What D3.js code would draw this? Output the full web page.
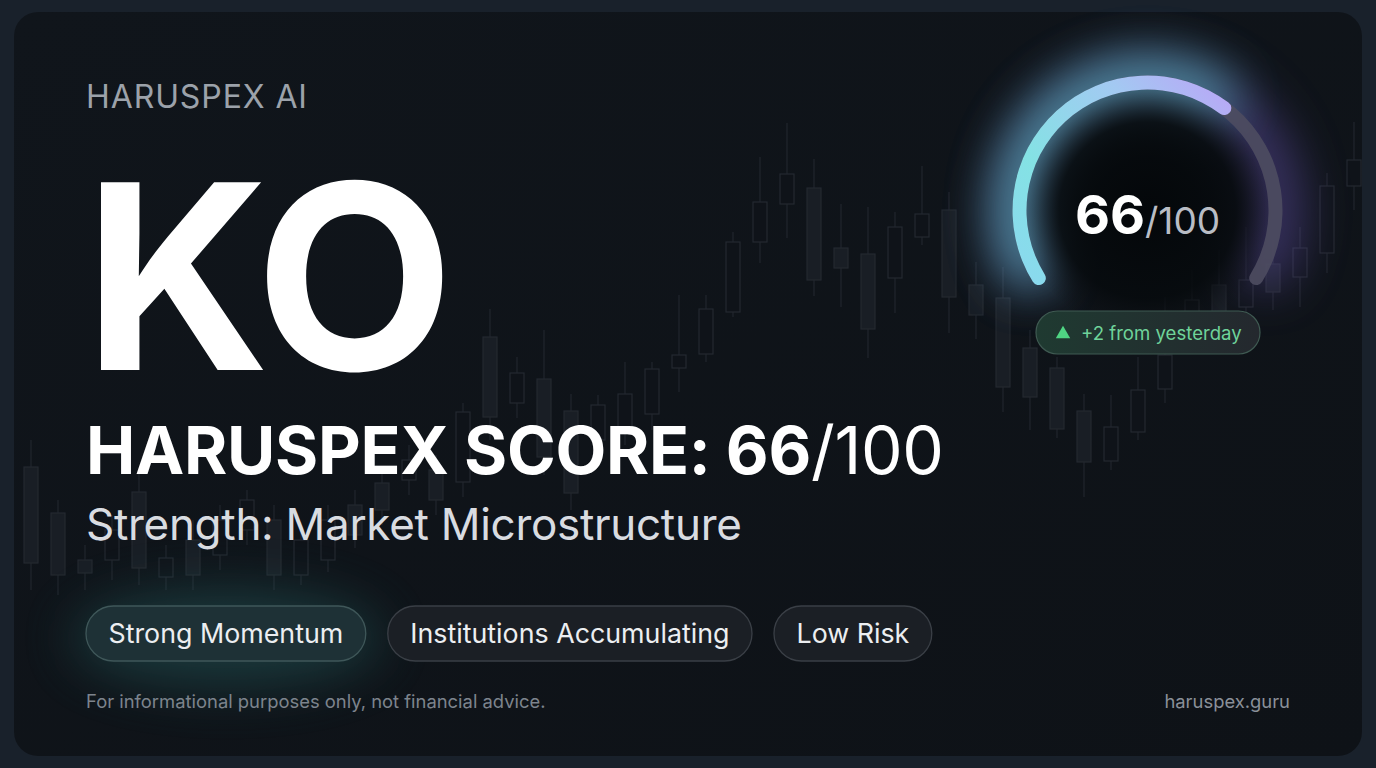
<!DOCTYPE html>
<html><head><meta charset="utf-8">
<script src="https://cdn.jsdelivr.net/npm/d3@7"></script>
<style>html,body{margin:0;padding:0;background:#19212b;overflow:hidden}svg{display:block}</style>
</head><body><svg id="c" width="1376" height="768"></svg>
<script>
// ---- content ----
const brand = "HARUSPEX AI";
const ticker = "KO";
const scoreLabel = "HARUSPEX SCORE: ";
const score = 66;
const scoreMax = 100;
const strengthText = "Strength: Market Microstructure";
const tags = ["Strong Momentum", "Institutions Accumulating", "Low Risk"];
const deltaText = "+2 from yesterday";
const disclaimer = "For informational purposes only, not financial advice.";
const site = "haruspex.guru";

// ---- background candlesticks (price units) ----
const candleOpen  = [26.6,17.4,8,8,21.6,4.6,12,9,14,16,5,8,19,23.4,24,26,23.6,52.6,39.4,44.2,37.8,32,34,37.2,46.4,49.2,57.6,71.6,79.2,82.4,70.4,69.2,64.4,72.6,78,63,60.4,50.4,46.4,37.8,27.8,33.6,42.2,54,63,58.6,67.2,64.6,69.4,82.8];
const candleClose = [7.4,5,5.4,14,6.4,8.4,5,16,20,5,12,16,13,18,28,20,37.6,36.6,45.4,28.6,21.4,39,41.2,46.2,49,58.2,71.6,79.6,85.2,64,66.4,54.2,74.6,77.2,60.6,57,42.6,40.6,34.2,27.6,34.6,42,49,60,56,64,61.6,70.4,82.8,88];
const candleHigh  = [32,20,11,17,26,11,16,19,22,19,15,19,22,26,31,29,39.4,58.2,48.6,54,41.2,41,47.6,47.6,61,61,73.6,88.6,95.4,88.2,79.2,78.6,77.6,86.8,81.6,67.6,66.6,54,48.6,41.2,41,48.6,60.6,66,70,74.6,72,74.6,85.4,95.6];
const candleLow   = [2,1,2,4,3,2,2,6,11,2,3,5.6,10.4,15,21,17,20.6,32,36.4,25,18,28,31,34,41.6,47.6,56.6,67.4,72.4,60.8,58.6,48.4,57.4,71,53.4,52.2,37.6,34,32.4,20.6,26,32,39.4,51,53,56,58,58.6,65.4,78];

const svg = d3.select("#c");
const W = 1376, H = 768;
const FONT = "Inter, 'Noto Sans', sans-serif";
const defs = svg.append("defs");

// card
svg.append("rect").attr("width", W).attr("height", H).attr("fill", "#19212b");
const cardGrad = defs.append("linearGradient").attr("id", "cardG").attr("x1", 0).attr("y1", 0).attr("x2", 1).attr("y2", 1);
cardGrad.append("stop").attr("offset", 0).attr("stop-color", "#10151b");
cardGrad.append("stop").attr("offset", 1).attr("stop-color", "#0e1217");
svg.append("rect").attr("x", 14).attr("y", 12).attr("width", 1348).attr("height", 744).attr("rx", 24).attr("fill", "url(#cardG)");

const clip = defs.append("clipPath").attr("id", "cardClip");
clip.append("rect").attr("x", 14).attr("y", 12).attr("width", 1348).attr("height", 744).attr("rx", 24);

// blur filters
function blur(id, sd) {
  const f = defs.append("filter").attr("id", id).attr("x", "-100%").attr("y", "-100%").attr("width", "300%").attr("height", "300%");
  f.append("feGaussianBlur").attr("stdDeviation", sd);
}
blur("b40", 40); blur("b24", 24); blur("b12", 12); blur("b26", 26);

// ---- candles ----
const idx = d3.range(candleOpen.length);
const x = d3.scalePoint().domain(idx).range([31, 1354]);
const y = d3.scaleLinear().domain([0, 100]).range([600, 100]);
const cg = svg.append("g").attr("clip-path", "url(#cardClip)");
const bw = 14;
cg.selectAll("line.wick").data(idx).join("line")
  .attr("x1", i => x(i)).attr("x2", i => x(i))
  .attr("y1", i => y(candleHigh[i])).attr("y2", i => y(candleLow[i]))
  .attr("stroke", "#20262d").attr("stroke-width", 1.2);
cg.selectAll("rect.body").data(idx).join("rect")
  .attr("x", i => x(i) - bw / 2)
  .attr("y", i => y(Math.max(candleOpen[i], candleClose[i])))
  .attr("width", bw)
  .attr("height", i => Math.abs(y(candleOpen[i]) - y(candleClose[i])))
  .attr("fill", i => candleClose[i] >= candleOpen[i] ? "#0f1319" : "#191e25")
  .attr("stroke", "#232930").attr("stroke-width", 1.2);

// ---- glows ----
const gx = 1147.5, gy = 210.5, gr = 128, gw = 14;
svg.append("ellipse").attr("cx", 227).attr("cy", 638).attr("rx", 155).attr("ry", 48)
  .attr("fill", "#2c7070").attr("opacity", 0.4).attr("filter", "url(#b26)");

// ---- gauge ----
const deg = Math.PI / 180;
const angle = d3.scaleLinear().domain([0, scoreMax]).range([-125 * deg, 125 * deg]);
const arc = d3.arc().innerRadius(gr - gw / 2).outerRadius(gr + gw / 2).cornerRadius(gw / 2);
const wideArc = d3.arc().innerRadius(gr - 24).outerRadius(gr + 26).cornerRadius(24);
const gG = svg.append("g").attr("transform", `translate(${gx},${gy})`);

const grad = defs.append("linearGradient").attr("id", "gaugeG").attr("gradientUnits", "userSpaceOnUse")
  .attr("x1", -gr).attr("y1", 60).attr("x2", gr * 0.6).attr("y2", -gr);
grad.append("stop").attr("offset", 0).attr("stop-color", "#8ad9ee");
grad.append("stop").attr("offset", 0.3).attr("stop-color", "#84e2e4");
grad.append("stop").attr("offset", 0.7).attr("stop-color", "#a3c9f2");
grad.append("stop").attr("offset", 1).attr("stop-color", "#b9a6f6");

// glow behind arcs
gG.append("path").attr("d", wideArc({ startAngle: angle(0), endAngle: angle(scoreMax) }))
  .attr("fill", "#6b56b8").attr("opacity", 0.5).attr("filter", "url(#b24)");
gG.append("path").attr("d", wideArc({ startAngle: angle(0), endAngle: angle(score) }))
  .attr("fill", "#5fc7cc").attr("opacity", 0.6).attr("filter", "url(#b24)");
// dark centre
const cgrad = defs.append("radialGradient").attr("id", "centerG");
cgrad.append("stop").attr("offset", 0).attr("stop-color", "#04070a").attr("stop-opacity", 1);
cgrad.append("stop").attr("offset", 0.7).attr("stop-color", "#060a0d").attr("stop-opacity", 0.85);
cgrad.append("stop").attr("offset", 1).attr("stop-color", "#0b0e12").attr("stop-opacity", 0);
gG.append("circle").attr("r", gr - 2).attr("fill", "url(#centerG)");

// track
gG.append("path").attr("d", arc({ startAngle: angle(0), endAngle: angle(scoreMax) }))
  .attr("fill", "#4e4d61").attr("opacity", 0.9);
// value
gG.append("path").attr("d", arc({ startAngle: angle(0), endAngle: angle(score) }))
  .attr("fill", "url(#gaugeG)");

const gt = gG.append("text").attr("text-anchor", "middle").attr("y", 23).attr("font-family", FONT);
gt.append("tspan").attr("font-size", 54).attr("font-weight", 700).attr("fill", "#ffffff").text(score);
gt.append("tspan").attr("font-size", 37).attr("font-weight", 400).attr("fill", "#b9bdc5").text("/" + scoreMax);

// delta pill
const dpg = defs.append("linearGradient").attr("id", "dpG").attr("x1", 0).attr("x2", 1);
dpg.append("stop").attr("offset", 0).attr("stop-color", "#1f3a31");
dpg.append("stop").attr("offset", 1).attr("stop-color", "#24282e");
svg.append("rect").attr("x", 1036).attr("y", 311).attr("width", 224).attr("height", 43).attr("rx", 21.5)
  .attr("fill", "url(#dpG)").attr("stroke", "#3f5a52").attr("stroke-width", 1.2);
svg.append("path").attr("d", d3.symbol(d3.symbolTriangle, 90)()).attr("transform", "translate(1063,334)").attr("fill", "#4fd483");
svg.append("text").attr("x", 1081).attr("y", 340).attr("font-family", FONT).attr("font-size", 18.6)
  .attr("fill", "#6fd39a").text(deltaText);

// ---- left text ----
svg.append("text").attr("x", 86).attr("y", 108).attr("font-family", FONT).attr("font-size", 32)
  .attr("fill", "#9ca2aa").attr("letter-spacing", 0.9).text(brand);
svg.append("text").attr("x", 84).attr("y", 370).attr("font-family", FONT).attr("font-size", 258)
  .attr("font-weight", 700).attr("fill", "#ffffff").attr("letter-spacing", -4).text(ticker);
const st = svg.append("text").attr("x", 86).attr("y", 474).attr("font-family", FONT).attr("font-size", 66).attr("fill", "#ffffff").attr("letter-spacing", -0.3);
st.append("tspan").attr("font-weight", 700).text(scoreLabel + score);
st.append("tspan").attr("font-weight", 400).text("/" + scoreMax);
svg.append("text").attr("x", 86).attr("y", 540).attr("font-family", FONT).attr("font-size", 44)
  .attr("fill", "#d9dce1").attr("letter-spacing", -0.3).text(strengthText);

// ---- tag pills ----
let px = 86;
const pillY = 606, pillH = 55, pad = 22.5, gap = 22;
tags.forEach((t, i) => {
  const g = svg.append("g");
  const r = g.append("rect").attr("y", pillY).attr("height", pillH).attr("rx", pillH / 2)
    .attr("fill", i === 0 ? "#1e3136" : "#1b1f25")
    .attr("stroke", i === 0 ? "#3f5759" : "#3a3f46").attr("stroke-width", 1.3);
  const tx = g.append("text").attr("y", pillY + 37).attr("font-family", FONT).attr("font-size", 26.8)
    .attr("fill", "#eceef1").text(t);
  const w = tx.node().getComputedTextLength();
  r.attr("x", px).attr("width", w + pad * 2);
  tx.attr("x", px + pad);
  px += w + pad * 2 + gap;
});

// ---- footer ----
svg.append("text").attr("x", 86).attr("y", 708).attr("font-family", FONT).attr("font-size", 18.4)
  .attr("fill", "#7d848d").text(disclaimer);
svg.append("text").attr("x", 1290).attr("y", 708).attr("text-anchor", "end").attr("font-family", FONT).attr("font-size", 18.4)
  .attr("fill", "#8a9099").text(site);
</script></body></html>
